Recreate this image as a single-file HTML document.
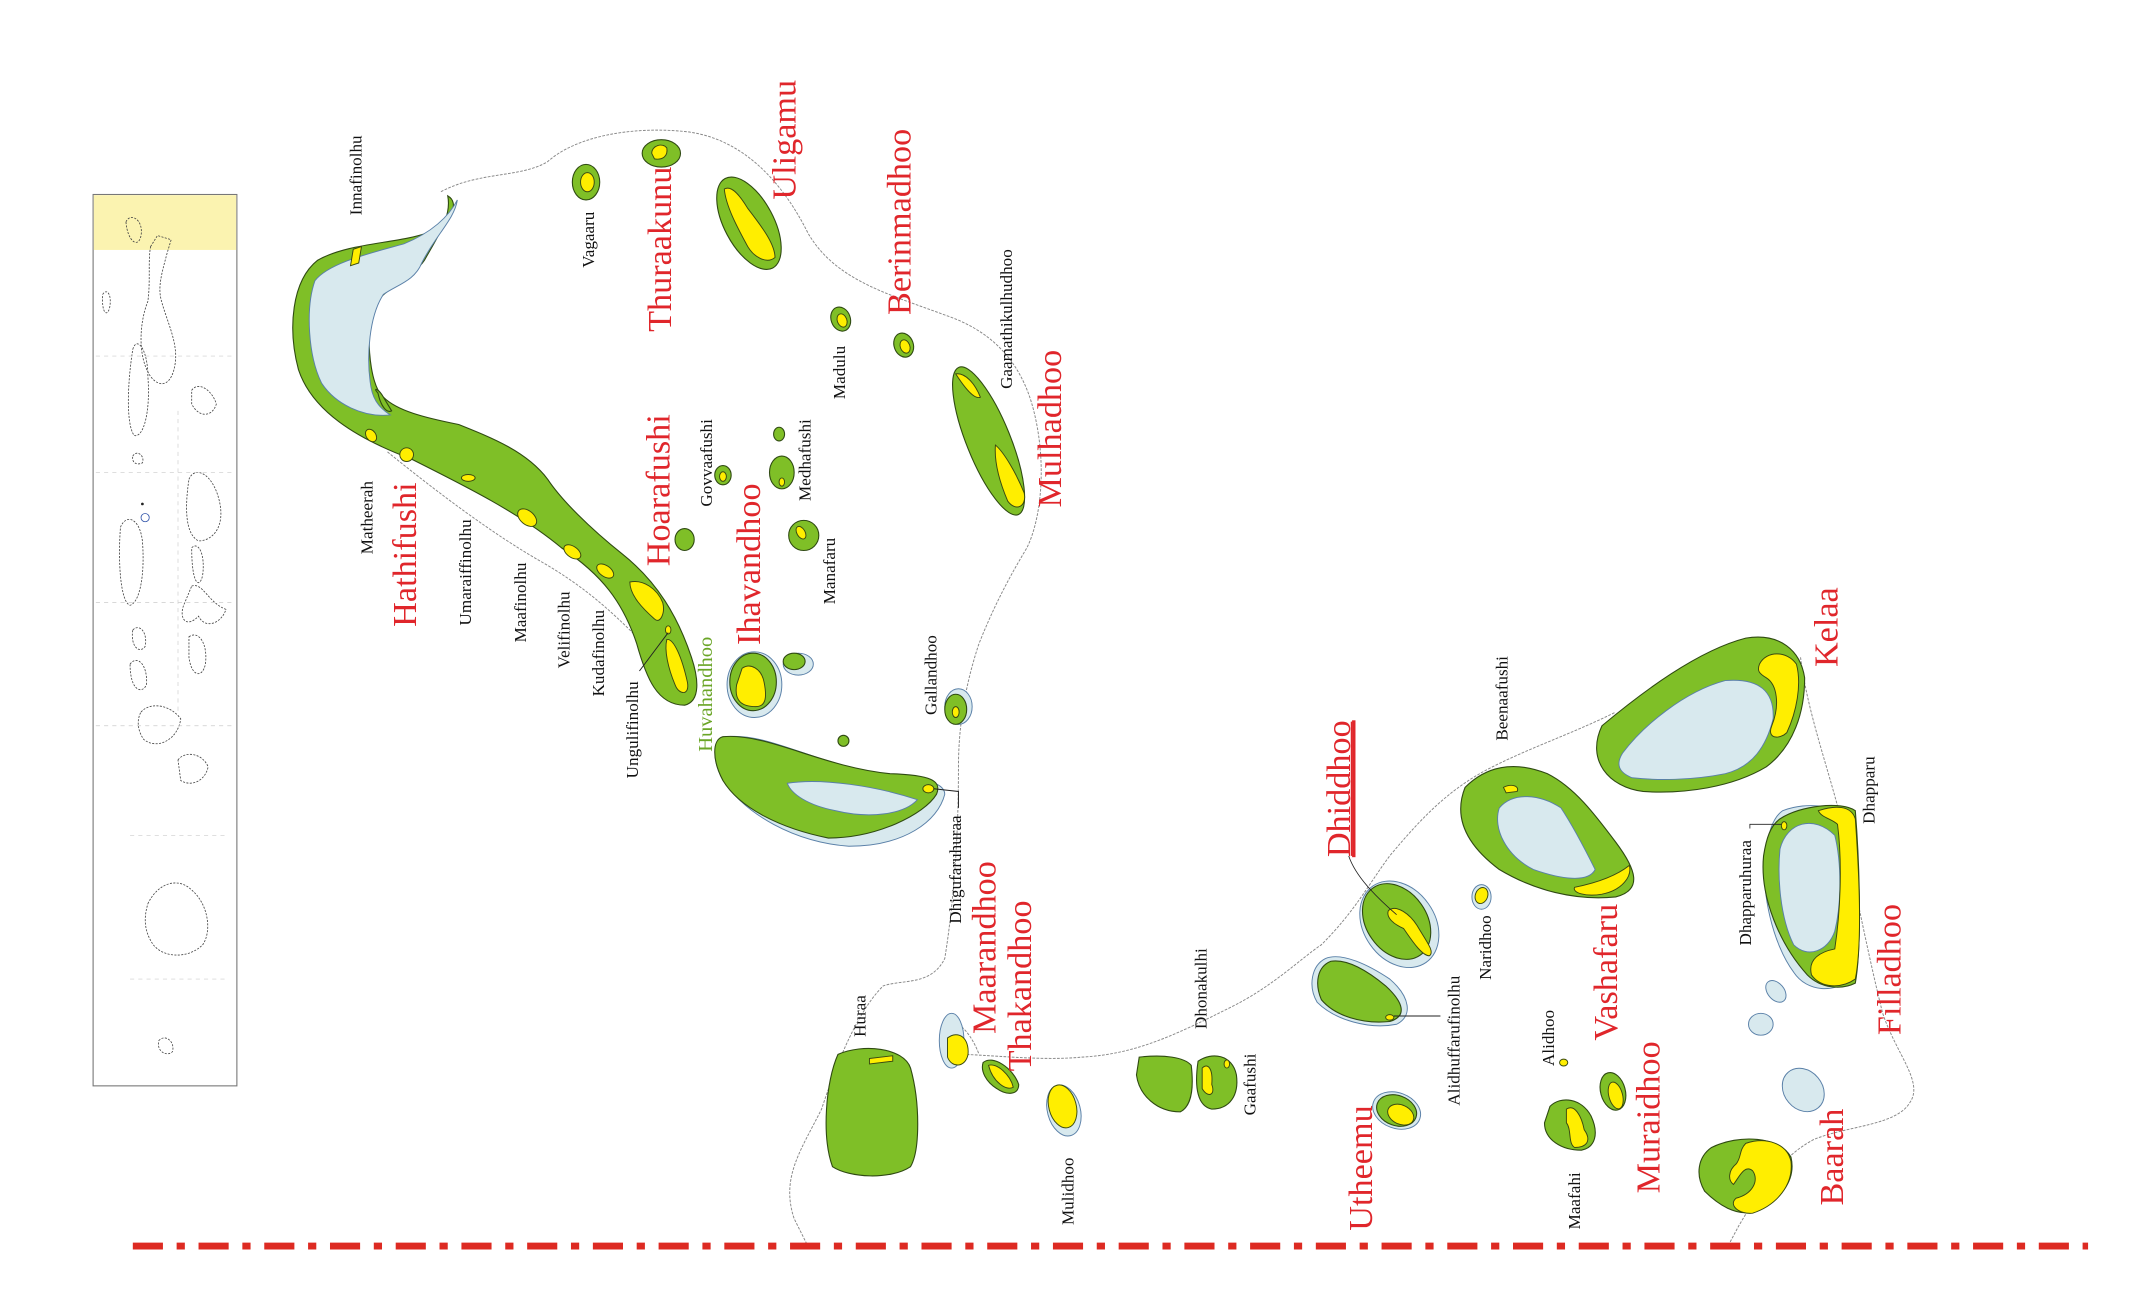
<!DOCTYPE html>
<html><head><meta charset="utf-8"><style>
html,body{margin:0;padding:0;background:#fff;}
svg{display:block}
.r{font-family:"Liberation Serif",serif;font-size:25px;fill:#e0262b;text-anchor:middle}
.b{font-family:"Liberation Serif",serif;font-size:12.5px;fill:#111;text-anchor:middle}
.g{fill:#7fbf27;stroke:#2f4a12;stroke-width:0.8}
.y{fill:#ffee00;stroke:#3a4a10;stroke-width:0.7}
.l{fill:#d8e9ee;stroke:#5a80a8;stroke-width:0.7}
.o{fill:none;stroke:#888;stroke-width:0.7;stroke-dasharray:2 1}
</style></head><body>
<svg width="2136" height="1305" viewBox="0 0 1560 953" xmlns="http://www.w3.org/2000/svg">
<rect width="1560" height="953" fill="#fff"/>
<rect x="68" y="142" width="105" height="651" fill="#fff" stroke="#777" stroke-width="0.8"/>
<rect x="68.5" y="142.5" width="104" height="40" fill="#fbf3b0"/>
<g fill="none" stroke="#444" stroke-width="0.6" stroke-dasharray="1.5 1">
<path d="M92,162 C95,155 105,160 103,172 C101,182 93,176 92,162Z"/>
<path d="M110,180 L115,172 L125,175 L122,185 C118,200 115,210 118,220 C122,235 130,250 128,265 C126,280 118,285 110,275 C100,260 102,235 108,220 C110,205 108,190 110,180Z"/>
<path d="M75,215 C78,210 82,215 80,225 C78,232 74,228 75,215Z"/>
<path d="M97,255 C100,245 108,255 108,275 C110,300 105,320 98,318 C92,310 93,280 97,255Z"/>
<path d="M140,285 C145,278 155,285 158,295 C155,305 145,305 140,295Z"/>
<path d="M97,333 C100,328 106,333 104,338 C100,340 96,338 97,333Z"/>
<path d="M138,350 C142,340 155,345 160,365 C165,385 155,395 145,395 C135,390 135,370 138,350Z"/>
<path d="M88,385 C92,375 102,378 104,395 C106,420 102,440 95,442 C88,440 86,410 88,385Z"/>
<path d="M140,400 C145,395 150,405 148,420 C146,430 140,428 140,400Z"/>
<path d="M140,428 C148,425 152,440 165,445 C162,455 150,460 145,450 C135,460 130,450 135,440Z"/>
<path d="M97,460 C102,455 108,462 106,472 C102,478 95,472 97,460Z"/>
<path d="M138,465 C145,460 152,470 150,485 C148,495 140,495 138,480Z"/>
<path d="M95,485 C100,478 108,485 107,500 C104,507 95,505 95,485Z"/>
<path d="M103,520 C110,512 125,515 132,525 C130,540 115,548 105,540 C100,533 100,525 103,520Z"/>
<path d="M130,555 C135,548 148,550 152,560 C150,570 140,575 132,570Z"/>
<path d="M108,660 C115,645 130,640 140,650 C152,660 155,680 148,690 C138,700 120,700 112,690 C105,680 105,670 108,660Z"/>
<path d="M116,760 C120,755 128,760 126,768 C122,772 114,768 116,760Z"/>
</g>
<g fill="none" stroke="#ccc" stroke-width="0.5" stroke-dasharray="3 3">
<path d="M70,260 L170,260 M70,345 L170,345 M70,440 L170,440 M70,530 L170,530 M95,610 L165,610 M95,715 L165,715 M130,300 L130,520"/>
</g>
<circle cx="106" cy="378" r="3" fill="none" stroke="#3355aa" stroke-width="0.6"/>
<circle cx="104" cy="368" r="1" fill="#222"/>

<path class="o" d="M322,140 C350,125 380,130 400,118 C420,100 460,92 500,96 C540,100 570,130 590,170 C610,205 650,215 690,230 C720,240 745,260 755,300 C765,340 760,380 750,400 C735,425 725,445 715,470 C705,500 700,530 700,560 C700,600 698,650 690,700 C680,720 660,715 645,720 C625,740 610,780 600,810 C585,840 570,860 580,890 L590,910"/>
<path class="o" d="M283,330 C320,360 360,390 395,410 C430,430 450,450 470,470"/>
<path class="o" d="M700,770 C720,770 760,775 790,772 C830,770 860,755 900,735 C930,720 950,700 965,690 C990,665 1000,645 1015,625 C1040,595 1060,575 1090,560 C1120,545 1150,535 1180,520"/>
<path class="o" d="M1315,480 C1320,520 1335,560 1345,600 C1355,650 1365,700 1375,740 C1385,770 1405,790 1395,805 C1385,822 1350,822 1325,832 C1300,845 1285,870 1270,895 L1262,910"/>
<path class="o" d="M700,748 C710,755 715,770 715,770"/>

<path class="g" d="M327,143 C336,148 330,162 312,170 C290,178 255,177 232,190 C213,205 210,240 218,270 C228,300 260,320 300,335 C340,355 380,375 410,400 C440,420 455,440 465,470 C472,495 480,515 500,515 C512,512 510,495 505,480 C495,450 480,425 455,405 C430,385 410,365 400,350 C385,330 360,320 335,310 C310,305 290,300 280,290 C272,283 268,260 270,230 C275,212 300,205 310,190 C320,172 330,158 327,143Z"/>
<path class="l" d="M334,146 C332,160 318,172 308,192 C303,205 290,208 280,215 C270,230 267,260 271,283 C273,294 279,299 285,303 C265,305 245,295 235,280 C225,260 223,225 230,205 C240,192 270,185 295,178 C315,170 328,158 334,146Z"/>
<path class="g" d="M276,287 C272,283 276,283 280,290 L286,300 C282,302 278,296 276,287Z"/>
<g class="y">
<path d="M258,182 L264,180 L262,192 L256,194Z"/>
<ellipse cx="271" cy="318" rx="3.5" ry="5" transform="rotate(-35 271 318)"/>
<ellipse cx="297" cy="332" rx="5" ry="5"/>
<ellipse cx="342" cy="349" rx="5" ry="2.5"/>
<ellipse cx="385" cy="378" rx="5" ry="8" transform="rotate(-50 385 378)"/>
<ellipse cx="418" cy="403" rx="4" ry="7" transform="rotate(-55 418 403)"/>
<ellipse cx="442" cy="417" rx="4" ry="7" transform="rotate(-55 442 417)"/>
<path d="M460,425 C470,423 480,430 484,440 C486,448 482,456 478,452 C470,445 460,435 460,425Z"/>
<path d="M487,467 C492,466 498,480 502,498 C504,508 496,508 493,500 C488,488 485,475 487,467Z"/>
<ellipse cx="488" cy="460" rx="2" ry="3"/>
</g>
<path d="M467,490 L488,462" stroke="#222" stroke-width="0.7" fill="none"/>

<ellipse class="g" cx="428" cy="133" rx="10" ry="13"/>
<ellipse class="y" cx="429" cy="133" rx="5" ry="7"/>
<ellipse class="g" cx="483" cy="112" rx="14" ry="10"/>
<path class="y" d="M476,112 C476,106 484,104 487,108 C488,114 484,117 478,116Z"/>
<ellipse class="g" cx="547" cy="163" rx="18" ry="37" transform="rotate(-28 547 163)"/>
<path class="y" d="M529,138 C534,135 540,142 546,152 C556,165 566,178 566,188 C560,193 550,188 545,178 C538,165 530,150 529,138Z"/>
<ellipse class="g" cx="614" cy="233" rx="7" ry="9" transform="rotate(-20 614 233)"/>
<ellipse class="y" cx="615" cy="234" rx="3.5" ry="5" transform="rotate(-20 615 234)"/>
<ellipse class="g" cx="660" cy="252" rx="7" ry="9" transform="rotate(-20 660 252)"/>
<ellipse class="y" cx="661" cy="253" rx="3.5" ry="5" transform="rotate(-20 661 253)"/>
<ellipse class="g" cx="722" cy="322" rx="16" ry="58" transform="rotate(-22 722 322)"/>
<path class="y" d="M698,273 C705,272 712,280 716,290 C712,292 705,284 698,273Z"/>
<path class="y" d="M727,325 C733,330 742,345 748,360 C750,370 742,374 736,366 C730,352 726,338 727,325Z"/>
<ellipse class="g" cx="500" cy="394" rx="7" ry="8"/>
<ellipse class="g" cx="528" cy="347" rx="6" ry="7"/>
<ellipse class="y" cx="528" cy="348" rx="2.5" ry="3.5"/>
<ellipse class="g" cx="569" cy="317" rx="4" ry="5"/>
<ellipse class="g" cx="571" cy="345" rx="9" ry="12"/>
<ellipse class="y" cx="571" cy="352" rx="2" ry="3"/>
<ellipse class="g" cx="587" cy="391" rx="11" ry="11"/>
<ellipse class="y" cx="585" cy="389" rx="3" ry="5" transform="rotate(-30 585 389)"/>
<ellipse class="l" cx="551" cy="500" rx="20" ry="24"/>
<ellipse class="g" cx="550" cy="498" rx="17" ry="21"/>
<path class="y" d="M542,488 C548,484 556,488 558,498 C560,508 560,516 552,516 C542,516 536,512 538,500Z"/>
<ellipse class="l" cx="583" cy="485" rx="11" ry="8"/>
<ellipse class="g" cx="580" cy="483" rx="8" ry="6"/>
<ellipse class="g" cx="616" cy="541" rx="4" ry="4"/>
<ellipse class="l" cx="700" cy="516" rx="10" ry="13"/>
<ellipse class="g" cx="698" cy="518" rx="8" ry="11"/>
<ellipse class="y" cx="698" cy="520" rx="2.5" ry="4"/>

<path class="l" d="M530,538 C560,535 590,555 640,565 C670,568 690,570 690,580 C685,600 660,618 620,618 C580,615 545,595 528,570 C520,555 520,540 530,538Z"/>
<path class="g" d="M528,538 C560,535 600,560 650,565 C680,566 688,570 684,580 C675,595 640,612 605,612 C570,605 540,590 528,570 C520,555 520,540 528,538Z"/>
<path class="l" d="M575,572 C600,568 640,574 670,584 C660,595 635,598 610,592 C590,588 578,580 575,572Z"/>
<ellipse class="y" cx="678" cy="576" rx="4" ry="3"/>
<path d="M682,576 L700,578 L700,590" stroke="#222" stroke-width="0.7" fill="none"/>

<path class="g" d="M612,770 C630,762 660,765 665,780 C672,805 672,840 665,852 C650,862 620,860 608,852 C600,830 603,790 612,770Z"/>
<path class="y" d="M635,773 L652,771 L652,775 L635,777Z"/>
<ellipse class="l" cx="695" cy="760" rx="9" ry="20"/>
<path class="y" d="M692,758 C700,752 708,758 707,770 C705,780 695,780 692,772Z"/>
<path class="g" d="M718,776 C725,770 740,780 744,792 C744,800 735,800 728,795 C720,790 716,782 718,776Z"/>
<path class="y" d="M722,778 C728,776 738,785 740,794 C735,797 725,790 722,778Z"/>
<ellipse class="l" cx="777" cy="811" rx="12" ry="19" transform="rotate(-15 777 811)"/>
<ellipse class="y" cx="776" cy="808" rx="10" ry="16" transform="rotate(-15 776 808)"/>
<path class="g" d="M832,772 C850,770 865,772 870,778 C872,795 870,808 862,812 C845,812 832,800 830,785Z"/>
<path class="g" d="M875,775 C885,768 900,770 903,785 C905,800 898,810 885,810 C875,808 872,795 875,775Z"/>
<path class="y" d="M878,780 C882,776 886,780 885,792 C888,800 882,802 878,795Z"/>
<ellipse class="y" cx="896" cy="777" rx="2" ry="3"/>
<ellipse class="l" cx="1020" cy="811" rx="18" ry="13" transform="rotate(20 1020 811)"/>
<ellipse class="g" cx="1020" cy="811" rx="15" ry="11" transform="rotate(20 1020 811)"/>
<ellipse class="y" cx="1023" cy="814" rx="10" ry="7" transform="rotate(25 1023 814)"/>
<path class="l" d="M968,700 C980,695 1000,705 1015,715 C1030,728 1032,742 1020,748 C1000,752 975,745 962,732 C955,720 958,705 968,700Z"/>
<path class="g" d="M972,702 C985,700 1000,710 1012,720 C1025,732 1028,742 1015,746 C995,748 975,742 965,730 C960,718 962,706 972,702Z"/>
<ellipse class="y" cx="1015" cy="743" rx="3" ry="2"/>
<path d="M1018,742 L1052,742" stroke="#222" stroke-width="0.7" fill="none"/>
<ellipse class="l" cx="1022" cy="675" rx="26" ry="34" transform="rotate(-35 1022 675)"/>
<ellipse class="g" cx="1020" cy="673" rx="22" ry="30" transform="rotate(-35 1020 673)"/>
<path class="y" d="M1014,665 C1020,660 1030,668 1035,676 C1042,688 1048,695 1044,698 C1038,698 1030,685 1025,678 C1018,675 1012,670 1014,665Z"/>
<path d="M985,625 C990,640 1005,655 1020,668" stroke="#222" stroke-width="0.6" fill="none"/>
<ellipse class="l" cx="1082" cy="655" rx="7" ry="9"/>
<ellipse class="y" cx="1082" cy="654" rx="4.5" ry="6" transform="rotate(20 1082 654)"/>

<path class="g" d="M1070,575 C1085,560 1105,555 1130,565 C1150,575 1165,595 1180,615 C1195,635 1200,650 1180,655 C1150,658 1120,650 1095,635 C1075,620 1060,600 1070,575Z"/>
<path class="l" d="M1095,590 C1105,578 1125,580 1140,590 C1150,605 1160,625 1165,635 C1160,645 1140,642 1120,635 C1100,625 1090,605 1095,590Z"/>
<path class="y" d="M1098,575 C1104,572 1110,574 1108,578 L1100,579Z"/>
<path class="y" d="M1150,648 C1165,645 1180,640 1190,632 C1192,640 1185,650 1170,653 C1158,655 1148,652 1150,648Z"/>
<path class="g" d="M1170,530 C1200,505 1240,475 1275,466 C1300,462 1315,475 1318,495 C1318,520 1310,545 1290,560 C1265,575 1230,580 1200,578 C1175,575 1158,555 1170,530Z"/>
<path class="l" d="M1185,550 C1200,530 1230,505 1260,497 C1285,495 1296,505 1295,525 C1290,545 1280,560 1260,565 C1235,570 1210,570 1192,568 C1182,564 1180,558 1185,550Z"/>
<path class="y" d="M1285,485 C1290,475 1305,475 1312,485 C1316,500 1312,520 1305,535 C1300,540 1290,540 1294,530 C1300,515 1298,500 1290,495 C1285,492 1283,490 1285,485Z"/>
<path class="l" d="M1302,592 C1320,585 1345,588 1350,600 C1358,640 1360,690 1352,715 C1340,725 1320,725 1310,710 C1295,690 1285,650 1290,620 C1292,605 1296,596 1302,592Z"/>
<path class="g" d="M1300,598 C1315,588 1345,585 1355,592 C1358,630 1360,690 1355,718 C1345,723 1330,722 1320,712 C1300,690 1285,655 1288,625 C1290,612 1293,603 1300,598Z"/>
<path class="l" d="M1300,620 C1305,600 1325,595 1340,610 C1345,630 1345,660 1340,680 C1335,695 1320,700 1310,690 C1300,670 1298,640 1300,620Z"/>
<path class="y" d="M1328,592 C1340,588 1352,588 1355,598 C1358,640 1360,690 1355,715 C1345,722 1330,722 1323,712 C1320,700 1330,695 1340,693 C1345,660 1345,625 1342,602 C1338,598 1330,597 1328,592Z"/>
<ellipse class="y" cx="1303" cy="603" rx="2" ry="3"/>
<path d="M1278,605 L1278,602 L1301,602" stroke="#222" stroke-width="0.6" fill="none"/>
<ellipse class="l" cx="1297" cy="724" rx="6" ry="9" transform="rotate(-40 1297 724)"/>
<ellipse class="l" cx="1286" cy="748" rx="9" ry="8"/>
<ellipse class="l" cx="1317" cy="796" rx="14" ry="17" transform="rotate(-40 1317 796)"/>
<ellipse class="y" cx="1142" cy="776" rx="3" ry="2.5"/>
<path class="g" d="M1132,808 C1140,800 1155,802 1162,815 C1168,828 1165,838 1155,840 C1140,840 1128,832 1128,820 Z"/>
<path class="y" d="M1144,810 C1150,806 1155,815 1157,825 C1162,832 1160,838 1150,838 C1145,835 1148,825 1144,820Z"/>
<ellipse class="g" cx="1178" cy="797" rx="9" ry="14" transform="rotate(-15 1178 797)"/>
<ellipse class="y" cx="1180" cy="800" rx="5" ry="10" transform="rotate(-15 1180 800)"/>
<path class="g" d="M1250,838 C1270,828 1300,830 1308,845 C1312,862 1300,878 1280,885 C1268,888 1255,880 1245,870 C1238,858 1240,845 1250,838Z"/>
<path class="y" d="M1275,835 C1290,830 1305,835 1308,848 C1310,865 1298,880 1280,886 C1270,887 1262,880 1268,875 C1280,872 1285,862 1280,855 C1274,850 1270,860 1266,865 C1262,862 1262,855 1268,850 C1272,845 1270,840 1275,835Z"/>

<line x1="97" y1="910" x2="1525" y2="910" stroke="#dd2a22" stroke-width="5" stroke-dasharray="22 10 6 10"/>

<g class="r">
<text transform="translate(304,405) rotate(-90)">Hathifushi</text>
<text transform="translate(489,358) rotate(-90)">Hoarafushi</text>
<text transform="translate(555,412) rotate(-90)">Ihavandhoo</text>
<text transform="translate(490,182) rotate(-90)">Thuraakunu</text>
<text transform="translate(581,102) rotate(-90)">Uligamu</text>
<text transform="translate(665,162) rotate(-90)">Berinmadhoo</text>
<text transform="translate(775,313) rotate(-90)">Mulhadhoo</text>
<text transform="translate(727,692) rotate(-90)">Maarandhoo</text>
<text transform="translate(753,720) rotate(-90)">Thakandhoo</text>
<text transform="translate(986,576) rotate(-90)" text-decoration="underline">Dhiddhoo</text>
<text transform="translate(1002,853) rotate(-90)">Utheemu</text>
<text transform="translate(1181,710) rotate(-90)">Vashafaru</text>
<text transform="translate(1212,816) rotate(-90)">Muraidhoo</text>
<text transform="translate(1346,845) rotate(-90)">Baarah</text>
<text transform="translate(1388,708) rotate(-90)">Filladhoo</text>
<text transform="translate(1342,458) rotate(-90)">Kelaa</text>
</g>
<line x1="987" y1="527" x2="987" y2="625" stroke="#e0262b" stroke-width="1"/>
<text transform="translate(520,507) rotate(-90)" font-family="Liberation Serif,serif" font-size="15" fill="#6aa526" text-anchor="middle">Huvahandhoo</text>

<g class="b">
<text transform="translate(264,128) rotate(-90)">Innafinolhu</text>
<text transform="translate(434,175) rotate(-90)">Vagaaru</text>
<text transform="translate(617,272) rotate(-90)">Madulu</text>
<text transform="translate(739,233) rotate(-90)">Gaamathikulhudhoo</text>
<text transform="translate(272,378) rotate(-90)">Matheerah</text>
<text transform="translate(344,418) rotate(-90)">Umaraiffinolhu</text>
<text transform="translate(384,440) rotate(-90)">Maafinolhu</text>
<text transform="translate(416,460) rotate(-90)">Velifinolhu</text>
<text transform="translate(441,477) rotate(-90)">Kudafinolhu</text>
<text transform="translate(466,533) rotate(-90)">Ungulifinolhu</text>
<text transform="translate(520,338) rotate(-90)">Govvaafushi</text>
<text transform="translate(592,336) rotate(-90)">Medhafushi</text>
<text transform="translate(610,417) rotate(-90)">Manafaru</text>
<text transform="translate(684,493) rotate(-90)">Gallandhoo</text>
<text transform="translate(702,635) rotate(-90)">Dhigufaruhuraa</text>
<text transform="translate(632,742) rotate(-90)">Huraa</text>
<text transform="translate(784,870) rotate(-90)">Mulidhoo</text>
<text transform="translate(881,722) rotate(-90)">Dhonakulhi</text>
<text transform="translate(917,792) rotate(-90)">Gaafushi</text>
<text transform="translate(1066,760) rotate(-90)">Alidhuffarufinolhu</text>
<text transform="translate(1089,692) rotate(-90)">Naridhoo</text>
<text transform="translate(1135,758) rotate(-90)">Alidhoo</text>
<text transform="translate(1154,877) rotate(-90)">Maafahi</text>
<text transform="translate(1101,510) rotate(-90)">Beenaafushi</text>
<text transform="translate(1279,652) rotate(-90)">Dhapparuhuraa</text>
<text transform="translate(1369,577) rotate(-90)">Dhapparu</text>
</g>
</svg>
</body></html>
